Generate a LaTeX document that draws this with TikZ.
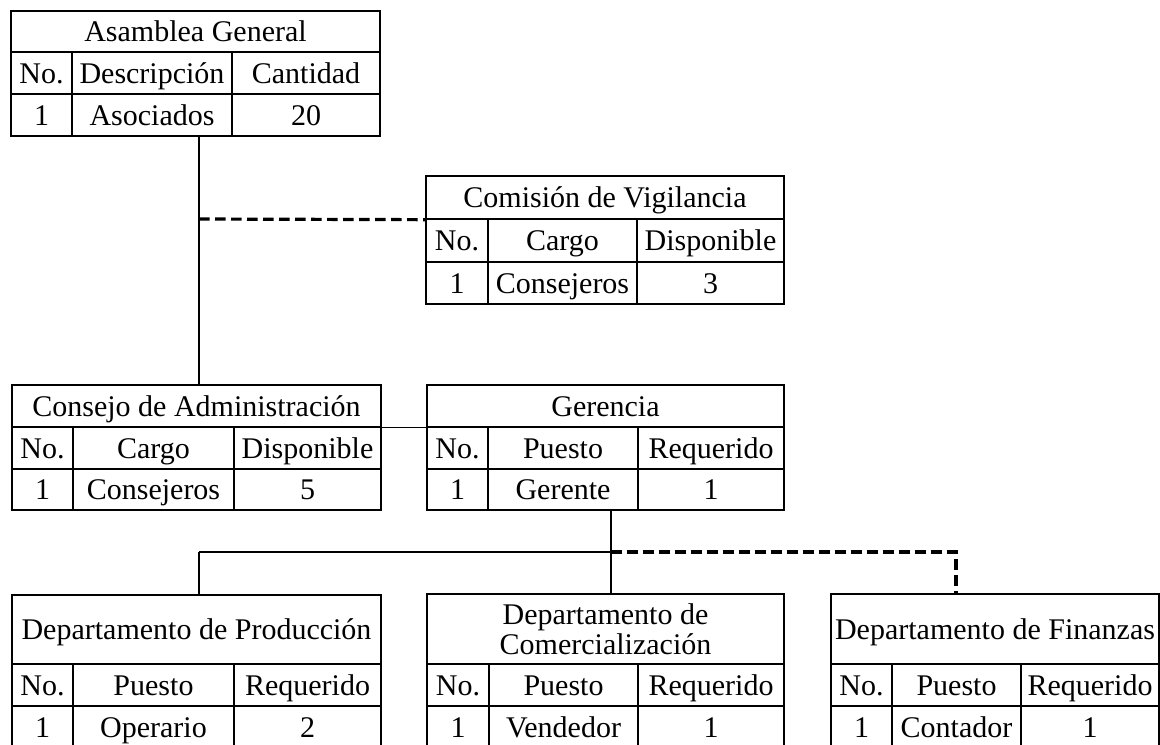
\documentclass[tikz,border=0pt]{standalone}
\usepackage{fontspec}
\setmainfont{Liberation Serif}
\tikzset{
  cell/.style={draw, line width=1pt, inner sep=0pt, align=center,
    font=\fontsize{22.5}{23.5}\selectfont, text height=17pt, text depth=1.6pt},
  freeheight/.style={text height=, text depth=},
  link/.style={line width=1pt},
  dlink/.style={line width=2.4pt, dash pattern=on 8pt off 4pt}
}
\newcommand{\cellbox}[7][]{%
  \node[cell, #1, minimum width={(#5-#3)*0.75pt}, minimum height={(#6-#4)*0.75pt}]
    (#2) at ({(#3+#5)/2},{(#4+#6)/2}) {#7};}
\begin{document}
\begin{tikzpicture}[x=0.75pt, y=-0.75pt]
\useasboundingbox (0,0) rectangle (1160,744);
\clip (0,0) rectangle (1160,744);

% Asamblea General
\cellbox{asamH}{11}{11}{380}{52}{Asamblea General}
\cellbox{asamA}{11}{52}{72}{94}{No.}
\cellbox{asamB}{72}{52}{232}{94}{Descripción}
\cellbox{asamC}{232}{52}{380}{94}{Cantidad}
\cellbox{asamD}{11}{94}{72}{136}{1}
\cellbox{asamE}{72}{94}{232}{136}{Asociados}
\cellbox{asamF}{232}{94}{380}{136}{20}

% Comision de Vigilancia
\cellbox{comH}{426}{176}{784}{219}{Comisión de Vigilancia}
\cellbox{comA}{426}{219}{488}{262}{No.}
\cellbox{comB}{488}{219}{637}{262}{Cargo}
\cellbox{comC}{637}{219}{784}{262}{Disponible}
\cellbox{comD}{426}{262}{488}{304}{1}
\cellbox{comE}{488}{262}{637}{304}{Consejeros}
\cellbox{comF}{637}{262}{784}{304}{3}

% Consejo de Administracion
\cellbox{conH}{12}{385}{381}{427}{Consejo de Administración}
\cellbox{conA}{12}{427}{73}{469}{No.}
\cellbox{conB}{73}{427}{234}{469}{Cargo}
\cellbox{conC}{234}{427}{381}{469}{Disponible}
\cellbox{conD}{12}{469}{73}{510}{1}
\cellbox{conE}{73}{469}{234}{510}{Consejeros}
\cellbox{conF}{234}{469}{381}{510}{5}

% Gerencia
\cellbox{gerH}{427}{385}{784}{427}{Gerencia}
\cellbox{gerA}{427}{427}{488}{469}{No.}
\cellbox{gerB}{488}{427}{638}{469}{Puesto}
\cellbox{gerC}{638}{427}{784}{469}{Requerido}
\cellbox{gerD}{427}{469}{488}{510}{1}
\cellbox{gerE}{488}{469}{638}{510}{Gerente}
\cellbox{gerF}{638}{469}{784}{510}{1}

% Departamento de Produccion
\cellbox{proH}{12}{595}{381}{664}{Departamento de Producción}
\cellbox{proA}{12}{664}{73}{706}{No.}
\cellbox{proB}{73}{664}{234}{706}{Puesto}
\cellbox{proC}{234}{664}{381}{706}{Requerido}
\cellbox{proD}{12}{706}{73}{748}{1}
\cellbox{proE}{73}{706}{234}{748}{Operario}
\cellbox{proF}{234}{706}{381}{748}{2}

% Departamento de Comercializacion
\cellbox[freeheight]{comeH}{427}{594}{784}{664}{Departamento de\\[-1pt]Comercialización}
\cellbox{comeA}{427}{664}{489}{706}{No.}
\cellbox{comeB}{489}{664}{638}{706}{Puesto}
\cellbox{comeC}{638}{664}{784}{706}{Requerido}
\cellbox{comeD}{427}{706}{489}{748}{1}
\cellbox{comeE}{489}{706}{638}{748}{Vendedor}
\cellbox{comeF}{638}{706}{784}{748}{1}

% Departamento de Finanzas
\cellbox{finH}{831}{594}{1159}{664}{Departamento de Finanzas}
\cellbox{finA}{831}{664}{892}{706}{No.}
\cellbox{finB}{892}{664}{1021}{706}{Puesto}
\cellbox{finC}{1021}{664}{1159}{706}{Requerido}
\cellbox{finD}{831}{706}{892}{748}{1}
\cellbox{finE}{892}{706}{1021}{748}{Contador}
\cellbox{finF}{1021}{706}{1159}{748}{1}

% junction points
\coordinate (jA) at (199,219);
\coordinate (jB) at (199,552);
\coordinate (jG) at (611,552);
\coordinate (jF) at (956,552);

% connectors
\draw[link] (asamE.south -| jA) -- (conH.north -| jA);
\draw[dlink] (jA) -- (comH.south west);
\draw[link] (conH.south east) -- (gerH.south west);
\draw[link] (gerE.south -| jG) -- (comeH.north -| jG);
\draw[link] (jB) -- (jG);
\draw[link] (jB) -- (proH.north -| jB);
\draw[dlink] (jG) -- (jF) -- (finH.north -| jF);
\end{tikzpicture}
\end{document}
